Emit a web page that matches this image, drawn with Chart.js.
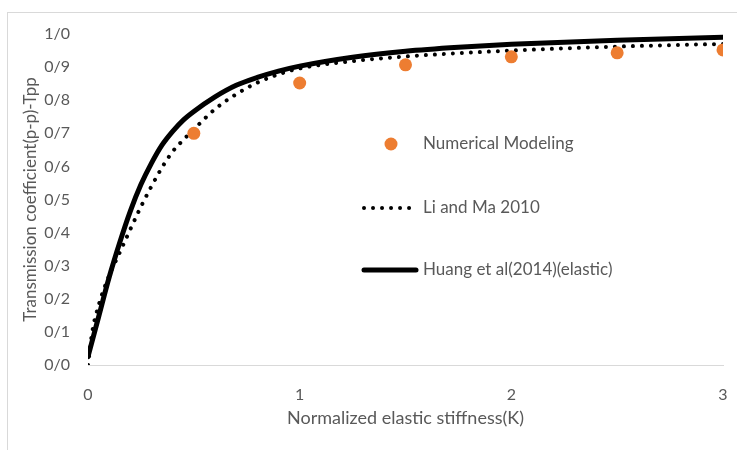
<!DOCTYPE html>
<html>
<head>
<meta charset="utf-8">
<script src="https://cdn.jsdelivr.net/npm/chart.js@4.4.1/dist/chart.umd.min.js"></script>
<style>
  html, body { margin: 0; padding: 0; background: #fff; }
  #wrap { position: relative; width: 737px; height: 450px; overflow: hidden; }
  #frame { position: absolute; left: 7px; top: 12px; width: 760px; height: 470px; border: 1px solid #d9d9d9; }
  #chart { position: absolute; left: 0; top: 0; }
</style>
</head>
<body>
<div id="wrap">
  <div id="frame"></div>
  <canvas id="chart" width="737" height="450"></canvas>
</div>
<script>
'use strict';

// Numerical Modeling (orange points)
const modelK = [0.5, 1.0, 1.5, 2.0, 2.5, 3.0];
const modelT = [0.700, 0.852, 0.907, 0.931, 0.943, 0.952];

// Li and Ma 2010 (dotted)
const liK = [0, 0.02, 0.05, 0.1, 0.15, 0.2, 0.25, 0.3, 0.35, 0.4, 0.45, 0.5, 0.6, 0.7, 0.8, 0.9, 1.0, 1.25, 1.5, 1.75, 2.0, 2.5, 3.0];
const liT = [0, 0.10, 0.18, 0.27, 0.34, 0.41, 0.478, 0.54, 0.597, 0.645, 0.68, 0.712, 0.773, 0.818, 0.853, 0.878, 0.896, 0.918, 0.932, 0.942, 0.95, 0.962, 0.97];

// Huang et al (2014) elastic (solid)
const huangK = [0, 0.05, 0.1, 0.15, 0.2, 0.25, 0.3, 0.35, 0.4, 0.45, 0.5, 0.6, 0.7, 0.8, 0.9, 1.0, 1.25, 1.5, 1.75, 2.0, 2.5, 3.0];
const huangT = [0.025, 0.145, 0.265, 0.37, 0.465, 0.545, 0.61, 0.665, 0.706, 0.74, 0.766, 0.81, 0.845, 0.869, 0.888, 0.903, 0.93, 0.948, 0.96, 0.969, 0.981, 0.99];

const xTickLabels = ['0', '1', '2', '3'];
const yTickLabels = ['0/0', '0/1', '0/2', '0/3', '0/4', '0/5', '0/6', '0/7', '0/8', '0/9', '1/0'];

const seriesNames = ['Numerical Modeling', 'Li and Ma 2010', 'Huang et al(2014)(elastic)'];

const textGray = '#595959';
const fontFamily = 'Lato, "Open Sans", sans-serif';

function toPoints(xs, ys) {
  return xs.map((x, i) => ({ x: x, y: ys[i] }));
}

// legend drawn inside the plot, like the original
const insideLegend = {
  id: 'insideLegend',
  afterDatasetsDraw(chart) {
    const ctx = chart.ctx;
    const rowsY = [144, 208, 270];
    chart.data.datasets.forEach((ds, i) => {
      const y = rowsY[i];
      ctx.save();
      if (ds.showLine === false) {
        ctx.fillStyle = ds.backgroundColor;
        ctx.beginPath();
        ctx.arc(391, y, ds.pointRadius, 0, Math.PI * 2);
        ctx.fill();
      } else {
        ctx.strokeStyle = ds.borderColor;
        ctx.lineWidth = ds.borderWidth;
        ctx.lineCap = 'round';
        ctx.setLineDash(ds.borderDash || []);
        ctx.beginPath();
        ctx.moveTo(364, y);
        ctx.lineTo(416, y);
        ctx.stroke();
      }
      ctx.setLineDash([]);
      ctx.fillStyle = textGray;
      ctx.font = '17px ' + fontFamily;
      ctx.textBaseline = 'middle';
      ctx.textAlign = 'left';
      ctx.fillText(ds.label, 423, y);
      ctx.restore();
    });
  }
};

new Chart(document.getElementById('chart'), {
  type: 'scatter',
  data: {
    datasets: [{
      label: seriesNames[0],
      data: toPoints(modelK, modelT),
      showLine: false,
      backgroundColor: '#ED7D31',
      borderColor: '#ED7D31',
      pointRadius: 6.5,
      pointBorderWidth: 0
    }, {
      label: seriesNames[1],
      data: toPoints(liK, liT),
      showLine: true,
      borderColor: '#000',
      borderWidth: 4,
      borderDash: [0.01, 9],
      borderCapStyle: 'round',
      cubicInterpolationMode: 'monotone',
      pointRadius: 0
    }, {
      label: seriesNames[2],
      data: toPoints(huangK, huangT),
      showLine: true,
      borderColor: '#000',
      borderWidth: 5,
      borderCapStyle: 'round',
      cubicInterpolationMode: 'monotone',
      pointRadius: 0
    }]
  },
  options: {
    responsive: false,
    animation: false,
    layout: { padding: { left: 20, right: 14, top: 34, bottom: 0 } },
    plugins: {
      legend: { display: false },
      tooltip: { enabled: false }
    },
    scales: {
      x: {
        type: 'linear',
        min: 0,
        max: 3,
        afterFit(scale) {
          scale.height = 85;
          scale.paddingRight = 2;
        },
        grid: { display: false },
        border: { display: true, color: '#d9d9d9', width: 1 },
        ticks: {
          stepSize: 1,
          padding: 12,
          color: textGray,
          font: { family: fontFamily, size: 16 },
          callback: (v, i) => xTickLabels[i]
        },
        title: {
          display: true,
          text: 'Normalized elastic stiffness(K)',
          color: textGray,
          font: { family: fontFamily, size: 18 },
          padding: { top: 4, bottom: 21 }
        }
      },
      y: {
        min: 0,
        max: 1,
        afterFit(scale) { scale.width = 68; },
        grid: { display: false },
        border: { display: false },
        ticks: {
          stepSize: 0.1,
          padding: 10,
          color: textGray,
          font: { family: fontFamily, size: 16 },
          callback: (v, i) => yTickLabels[i]
        },
        title: {
          display: true,
          text: 'Transmission coefficient(p-p)-Tpp',
          color: textGray,
          font: { family: fontFamily, size: 17 },
          padding: 0
        }
      }
    }
  },
  plugins: [insideLegend]
});
</script>
</body>
</html>
